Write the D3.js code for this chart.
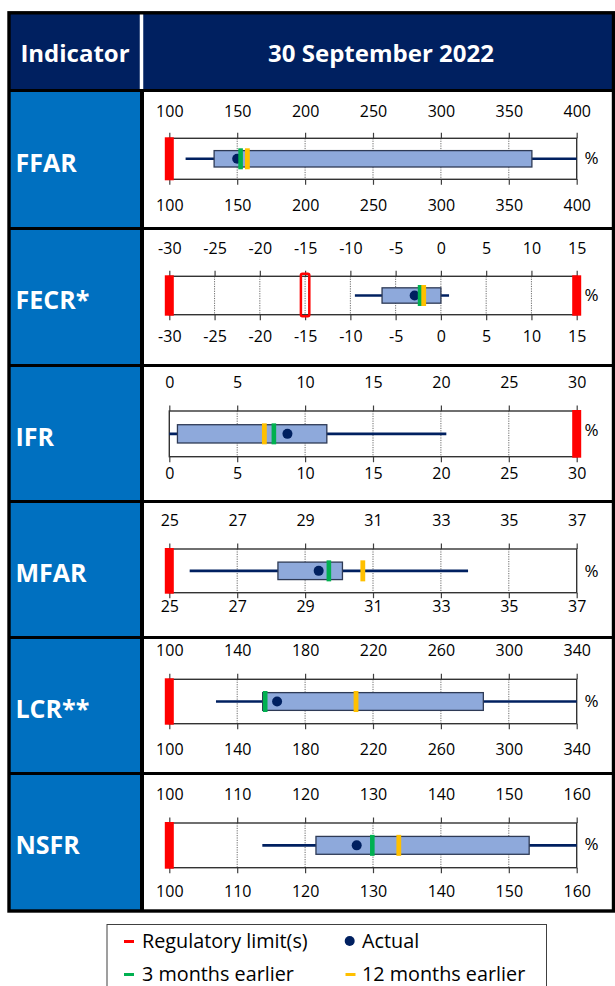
<!DOCTYPE html>
<html><head><meta charset="utf-8">
<script src="https://cdn.jsdelivr.net/npm/d3@7"></script>
<style>body{margin:0;background:#fff}svg{display:block}</style>
</head><body>
<svg id="c" width="615" height="986"></svg>
<script>
// ---------------- data ----------------
const headerLeft = "Indicator";
const headerRight = "30 September 2022";
const indicators = ["FFAR", "FECR*", "IFR", "MFAR", "LCR**", "NSFR"];
const axisMin = [100, -30, 0, 25, 100, 100];
const axisMax = [400, 15, 30, 37, 340, 160];
const tickLabels = [
  [100, 150, 200, 250, 300, 350, 400],
  [-30, -25, -20, -15, -10, -5, 0, 5, 10, 15],
  [0, 5, 10, 15, 20, 25, 30],
  [25, 27, 29, 31, 33, 35, 37],
  [100, 140, 180, 220, 260, 300, 340],
  [100, 110, 120, 130, 140, 150, 160]
];
const whiskerLow = [112, -9.5, 0, 25.6, 127.5, 113.7];
const boxLow = [133, -6.5, 0.6, 28.2, 155, 121.6];
const boxHigh = [367, 0, 11.6, 30.1, 285, 153];
const whiskerHigh = [400, 0.9, 20.4, 33.8, 340, 160];
const actual = [150, -2.9, 8.7, 29.4, 163.5, 127.6];
const threeMonthsEarlier = [152.5, -2.3, 7.7, 29.7, 156.5, 129.9];
const twelveMonthsEarlier = [157.5, -1.9, 7.0, 30.7, 210, 133.8];
const regulatoryLimits = [[100], [-30, 15], [30], [25], [100], [100]];
const softLimits = [[], [-15], [], [], [], []];
const legendLabels = ["Regulatory limit(s)", "Actual", "3 months earlier", "12 months earlier"];
const unit = "%";

// ---------------- layout / style ----------------
const FONT = "'Open Sans', sans-serif";
const NAVY = "#002060", BLUE = "#0070C0", BOXFILL = "#8EA9DB";
const RED = "#FF0000", GREEN = "#00B050", YELLOW = "#FFC000";
const sepY = [90.5, 228.5, 365.5, 501.5, 637.5, 773.5, 911];
const panelLayout = [
  {lt: 111, ft: 138.3, fb: 179.3, lb: 205, pc: 157.5},
  {lt: 248, ft: 276.3, fb: 314.7, lb: 336.3, pc: 294.7},
  {lt: 382.3, ft: 411, fb: 456.7, lb: 473.3, pc: 430},
  {lt: 520.7, ft: 549, fb: 592.7, lb: 606.7, pc: 570.7},
  {lt: 650, ft: 679.3, fb: 723.7, lb: 749.3, pc: 701},
  {lt: 794.7, ft: 823, fb: 867.7, lb: 891.3, pc: 843.7}
];
const X0 = 169.3, X1 = 576.7;
const TICK_FS = 16;

const svg = d3.select("#c");

// header
svg.append("rect").attr("x", 9).attr("y", 13).attr("width", 604).attr("height", 77).attr("fill", NAVY);
// left column cells
for (let i = 0; i < 6; i++) {
  svg.append("rect").attr("x", 9).attr("y", sepY[i]).attr("width", 133).attr("height", sepY[i + 1] - sepY[i])
    .attr("fill", BLUE);
}
// header divider (white)
svg.append("line").attr("x1", 141.5).attr("x2", 141.5).attr("y1", 13).attr("y2", 89)
  .attr("stroke", "#fff").attr("stroke-width", 3.5);
// body divider (black)
svg.append("line").attr("x1", 142).attr("x2", 142).attr("y1", 89).attr("y2", 911)
  .attr("stroke", "#000").attr("stroke-width", 4);
// horizontal separators
sepY.slice(0, 6).forEach(y => {
  svg.append("line").attr("x1", 9).attr("x2", 614).attr("y1", y).attr("y2", y)
    .attr("stroke", "#000").attr("stroke-width", 3.2);
});
// outer border
svg.append("rect").attr("x", 9).attr("y", 12.8).attr("width", 604.5).attr("height", 898.2)
  .attr("fill", "none").attr("stroke", "#000").attr("stroke-width", 3.4);

// header texts
const HFS = 24;
svg.append("text").attr("x", 75).attr("y", 53 + HFS * 0.357).attr("text-anchor", "middle")
  .attr("font-family", FONT).attr("font-weight", 700).attr("font-size", HFS).attr("fill", "#fff").text(headerLeft);
svg.append("text").attr("x", 381).attr("y", 53 + HFS * 0.357).attr("text-anchor", "middle")
  .attr("font-family", FONT).attr("font-weight", 700).attr("font-size", HFS).attr("fill", "#fff").text(headerRight);

// panels
indicators.forEach((name, i) => {
  const L = panelLayout[i];
  const g = svg.append("g");
  const x = d3.scaleLinear().domain([axisMin[i], axisMax[i]]).range([X0, X1]);
  const cy = (L.ft + L.fb) / 2;

  // left label
  const LBFS = 25;
  const pcen = (sepY[i] + sepY[i + 1]) / 2 + 3.3;
  svg.append("text").attr("x", 15.5).attr("y", pcen + LBFS * 0.357)
    .attr("font-family", FONT).attr("font-weight", 700).attr("font-size", LBFS).attr("fill", "#fff").text(name);

  // dotted gridlines
  g.selectAll("line.grid").data(tickLabels[i].slice(1, -1)).join("line")
    .attr("x1", d => x(d)).attr("x2", d => x(d)).attr("y1", L.ft).attr("y2", L.fb)
    .attr("stroke", "#6b6b6b").attr("stroke-width", 1).attr("stroke-dasharray", "1.2,1.2");

  // axes
  const half = TICK_FS * 0.357;
  const fmt = d => String(d);
  const topAxis = d3.axisTop(x).tickValues(tickLabels[i]).tickSize(5.5)
    .tickPadding(L.ft - 5.5 - (L.lt + half)).tickFormat(fmt);
  const botAxis = d3.axisBottom(x).tickValues(tickLabels[i]).tickSize(5.5)
    .tickPadding(2).tickFormat(fmt);
  [[topAxis, L.ft], [botAxis, L.fb]].forEach(([ax, y]) => {
    const a = g.append("g").attr("transform", `translate(0,${y})`).call(ax);
    a.select(".domain").remove();
    a.selectAll(".tick line").attr("stroke", "#404040").attr("stroke-width", 1.2);
    a.selectAll(".tick text").attr("font-family", FONT).attr("font-size", TICK_FS).attr("fill", "#000");
    a.attr("font-family", FONT);
    if (ax === botAxis) {
      a.selectAll(".tick text").attr("dy", null).attr("y", L.lb - L.fb + half);
    }
  });

  // frame
  g.append("rect").attr("x", X0).attr("y", L.ft).attr("width", X1 - X0).attr("height", L.fb - L.ft)
    .attr("fill", "none").attr("stroke", "#333").attr("stroke-width", 1.4);

  // whisker
  g.append("line").attr("x1", x(whiskerLow[i])).attr("x2", x(whiskerHigh[i])).attr("y1", cy).attr("y2", cy)
    .attr("stroke", NAVY).attr("stroke-width", 2.6);
  // box
  const bh = (L.fb - L.ft) * 0.4;
  g.append("rect").attr("x", x(boxLow[i])).attr("y", cy - bh / 2)
    .attr("width", x(boxHigh[i]) - x(boxLow[i])).attr("height", bh)
    .attr("fill", BOXFILL).attr("stroke", "#2E3A55").attr("stroke-width", 1.3);

  // regulatory limits
  g.selectAll("rect.lim").data(regulatoryLimits[i]).join("rect")
    .attr("x", d => x(d) - 4.5).attr("width", 9).attr("y", L.ft - 1).attr("height", L.fb - L.ft + 2)
    .attr("fill", RED);
  g.selectAll("rect.soft").data(softLimits[i]).join("rect")
    .attr("x", d => x(d) - 4.2).attr("width", 8.4).attr("y", L.ft - 2.5).attr("height", L.fb - L.ft + 4)
    .attr("rx", 1.5).attr("fill", "none").attr("stroke", RED).attr("stroke-width", 2.5);

  // markers
  g.append("circle").attr("cx", x(actual[i])).attr("cy", cy).attr("r", 5).attr("fill", NAVY);
  g.append("rect").attr("x", x(threeMonthsEarlier[i]) - 2.3).attr("width", 4.6)
    .attr("y", cy - 10.5).attr("height", 21).attr("fill", GREEN);
  g.append("rect").attr("x", x(twelveMonthsEarlier[i]) - 2.4).attr("width", 4.8)
    .attr("y", cy - 10.5).attr("height", 21).attr("fill", YELLOW);

  // unit
  g.append("text").attr("x", 584.5).attr("y", L.pc + 17 * 0.357).attr("font-family", FONT)
    .attr("font-size", 17).attr("fill", "#000").text(unit);
});

// legend
const LFS = 19.8;
svg.append("rect").attr("x", 107).attr("y", 924.5).attr("width", 439.5).attr("height", 70)
  .attr("fill", "#fff").attr("stroke", "#404040").attr("stroke-width", 1);
const legItems = [
  {label: legendLabels[0], tx: 142, y: 941, kind: "dash", color: RED, mx: 124},
  {label: legendLabels[1], tx: 362, y: 941, kind: "dot", color: NAVY, mx: 345},
  {label: legendLabels[2], tx: 142, y: 974, kind: "dash", color: GREEN, mx: 124},
  {label: legendLabels[3], tx: 362, y: 974, kind: "dash", color: YELLOW, mx: 345.5}
];
legItems.forEach(d => {
  if (d.kind === "dash") {
    svg.append("line").attr("x1", d.mx).attr("x2", d.mx + 10).attr("y1", d.y + 0.5).attr("y2", d.y + 0.5)
      .attr("stroke", d.color).attr("stroke-width", 3);
  } else {
    svg.append("circle").attr("cx", d.mx + 4.7).attr("cy", d.y).attr("r", 5).attr("fill", d.color);
  }
  svg.append("text").attr("x", d.tx).attr("y", d.y + LFS * 0.357).attr("font-family", FONT)
    .attr("font-size", LFS).attr("fill", "#000").text(d.label);
});
</script>
</body></html>
